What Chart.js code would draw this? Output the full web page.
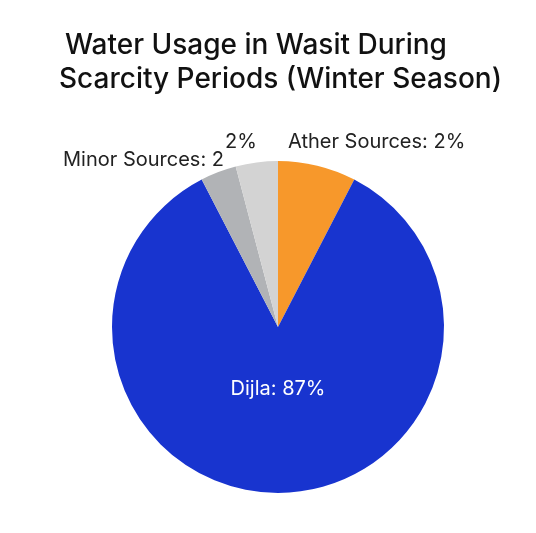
<!DOCTYPE html>
<html>
<head>
<meta charset="utf-8">
<script src="https://cdn.jsdelivr.net/npm/chart.js@4.4.0/dist/chart.umd.min.js"></script>
<style>
  html, body { margin: 0; padding: 0; background: #fff; }
  canvas { display: block; }
</style>
</head>
<body>
<canvas id="pie" width="536" height="533"></canvas>
<script>
// data (slice sizes follow the drawn angles)
const categories = ['Ather Sources', 'Dijla', 'Minor Sources', 'Other'];
const values = [7.6, 84.8, 3.5, 4.1];
const colors = ['#F7982B', '#1834CF', '#B1B3B6', '#D3D3D3'];
const sliceTexts = ['Ather Sources: 2%', 'Dijla: 87%', 'Minor Sources: 2', '2%'];
const titleLines = ['Water Usage in Wasit During', 'Scarcity Periods (Winter Season)'];

const FONT = 'Inter, "Noto Sans", sans-serif';

const textPlugin = {
    id: 'textPlugin',
    afterDraw(chart) {
        const ctx = chart.ctx;
        const arcs = chart.getDatasetMeta(0).data;
        const cx = arcs[0].x, cy = arcs[0].y, r = arcs[0].outerRadius;

        ctx.save();
        // title
        ctx.fillStyle = '#111';
        ctx.textBaseline = 'alphabetic';
        ctx.textAlign = 'left';
        ctx.font = '500 28px ' + FONT;
        ctx.fillText(titleLines[0], 65, 54);
        ctx.fillText(titleLines[1], 59, 88);

        // outside labels
        ctx.font = '20px ' + FONT;
        ctx.fillStyle = '#222';
        ctx.textAlign = 'left';
        ctx.fillText(sliceTexts[0], cx + 10, cy - r - 13);
        ctx.fillText(sliceTexts[3], cx - 53, cy - r - 13);
        ctx.textAlign = 'right';
        ctx.fillText(sliceTexts[2], cx - 54, cy - r + 5);

        // inside label
        ctx.fillStyle = '#fff';
        ctx.textAlign = 'center';
        ctx.font = '20px ' + FONT;
        ctx.fillText(sliceTexts[1], cx, cy + r * 0.41);
        ctx.restore();
    }
};

new Chart(document.getElementById('pie'), {
    type: 'pie',
    data: {
        labels: categories,
        datasets: [{
            data: values,
            backgroundColor: colors,
            borderWidth: 0,
            hoverOffset: 0
        }]
    },
    options: {
        responsive: false,
        animation: false,
        layout: {
            padding: { top: 161, bottom: 40, left: 112, right: 92 }
        },
        plugins: {
            legend: { display: false },
            title: { display: false },
            tooltip: { enabled: false }
        }
    },
    plugins: [textPlugin]
});
</script>
</body>
</html>
